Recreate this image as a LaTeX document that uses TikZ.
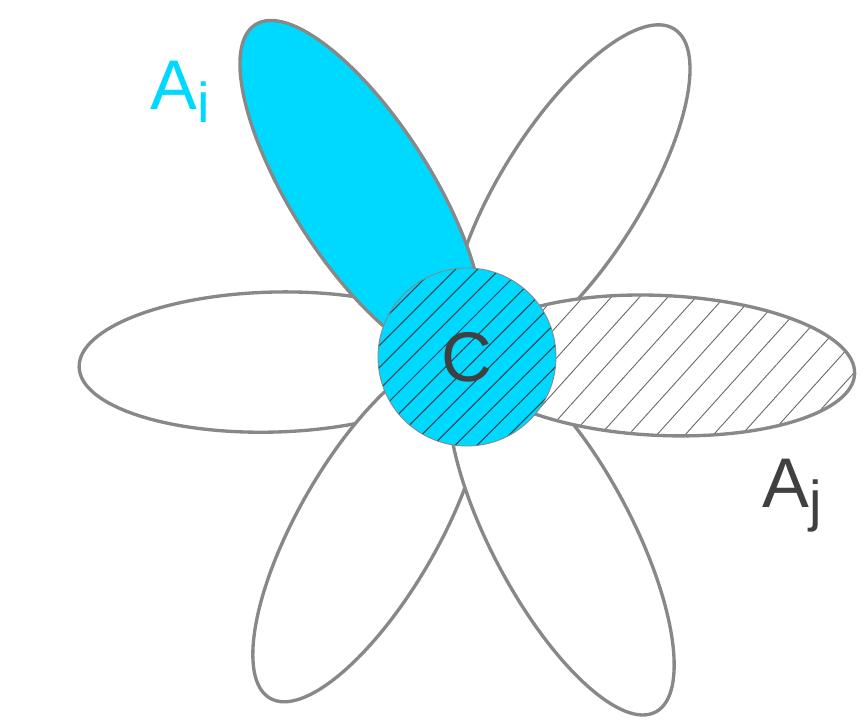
\documentclass[tikz,border=0pt]{standalone}
\usepackage{fontspec}
\setmainfont{Liberation Sans}
\usetikzlibrary{patterns.meta}
\definecolor{petalblue}{HTML}{00D9FF}
\definecolor{petalgray}{HTML}{888888}
\definecolor{textgray}{HTML}{404040}
\definecolor{hatchdark}{HTML}{1E4550}
\newcommand{\setsub}[1]{\raisebox{-0.26cm}{\fontsize{32}{32}\selectfont #1}}

\begin{document}
\begin{tikzpicture}[
  petal/.style={draw=petalgray, line width=1.9pt, fill=white},
  hatched/.style={preaction={fill=white}, pattern={Lines[angle=48, distance=0.42cm, line width=0.5pt]}, pattern color=textgray!80},
  hub/.style={circle, draw=petalgray, line width=0.5pt, minimum size=3.56cm, inner sep=0pt,
    preaction={fill=petalblue}, pattern={Lines[angle=45, distance=0.31cm, line width=0.6pt]},
    pattern color=hatchdark, text=textgray, font=\fontsize{40}{48}\selectfont},
  setlabel/.style={anchor=base west, inner sep=0pt, font=\fontsize{40}{48}\selectfont}
]
\useasboundingbox (-9.34,-7.36) rectangle (7.94,7.14);

% === PETALS ===
\foreach \ang/\len in {57.7/3.88, 181.5/3.88, 240/3.94, 298/4.02}
  \draw[petal, rotate=\ang] (\len,0) ellipse [x radius=\len, y radius=1.4];

% === SET A_i ===
\draw[petal, fill=petalblue, rotate=122.5] (3.94,0) ellipse [x radius=3.94, y radius=1.4];

% === SET A_j ===
\draw[petal, hatched, rotate=-2.5] (3.88,0) ellipse [x radius=3.88, y radius=1.4];

% === CORE ===
\node[hub] (core) at (0,0) {C};

% === LABELS ===
\node[setlabel, text=petalblue] (ai) at (-6.34,4.94) {A\setsub{i}};
\node[setlabel, text=textgray] (aj) at (5.90,-3.02) {A\setsub{j}};

\end{tikzpicture}
\end{document}
